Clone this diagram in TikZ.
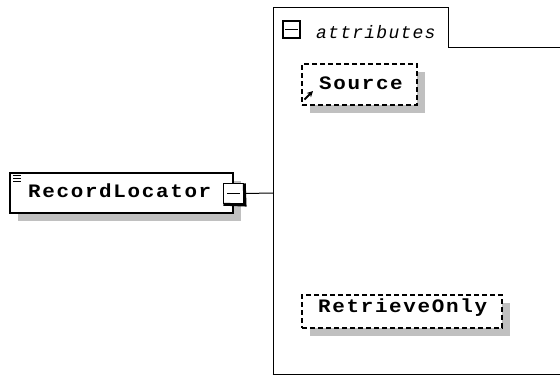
\documentclass[tikz,border=0pt]{standalone}
\usepackage{fontspec}
\usepackage{graphicx}
\usetikzlibrary{shadows,arrows.meta}
\newfontfamily\namefont[LetterSpace=8]{Liberation Mono}
\newfontfamily\grpfont[LetterSpace=7]{Liberation Mono}
\definecolor{shadowgray}{RGB}{192,192,192}
\begin{document}
\begin{tikzpicture}[x=1pt,y=-1pt,
  elembox/.style={draw=black,line width=1.2pt,fill=white,inner sep=0pt,
    drop shadow={shadow xshift=8pt,shadow yshift=-8pt,fill=shadowgray,opacity=1}},
  attrbox/.style={draw=black,line width=1.5pt,dash pattern=on 5pt off 3pt,fill=white,inner sep=0pt,
    drop shadow={shadow xshift=8pt,shadow yshift=-8pt,fill=shadowgray,opacity=1}},
  nametext/.style={anchor=base west,inner sep=0pt,font=\namefont\fontsize{19pt}{21pt}\selectfont\bfseries},
  grptext/.style={anchor=base west,inner sep=0pt,font=\grpfont\fontsize{18pt}{20pt}\selectfont\itshape},
  minusbox/.style={draw=black,line width=1.5pt,fill=white,inner sep=0pt,minimum size=20pt},
  conn/.style={draw=black,line width=1pt}]
\useasboundingbox (0,0) rectangle (560,376);
% container
\draw[conn] (273,374.5) -- (273,7.5) -- (448,7.5) -- (448,47) -- (565,47);
\draw[conn] (272.5,374.5) -- (565,374.5);
\coordinate (cl) at (273,193);
% tab minus box
\node[draw=black,line width=2pt,fill=white,inner sep=0pt,minimum size=17pt] (tm) at (291.5,29.5) {};
\draw[line width=1.5pt] ([xshift=3pt]tm.west) -- ([xshift=-3pt]tm.east);
\node[grptext] (attr) at (316,38) {attributes};
% element
\node[elembox,minimum width=223pt,minimum height=40pt] (rl) at (121.5,193) {};
\draw[line width=1pt] (13,175) -- (21,175) (13,178) -- (21,178) (13,181) -- (21,181);
\node[nametext] (rlt) at (28,197.5) {\scalebox{1.1}[1]{RecordLocator}};
\node[minusbox] (mb) at (233.5,193.5) {};
\draw[line width=3pt] ([yshift=-0.75pt]mb.north east) -- ([xshift=0.75pt,yshift=-0.75pt]mb.south east) -- ([xshift=0.75pt]mb.south west);
\draw[line width=1.5pt] ([xshift=4.5pt]mb.west) -- ([xshift=-4.5pt]mb.east);
\draw[conn] (mb.east) -- (cl);
% attributes
\node[attrbox,minimum width=115pt,minimum height=41pt] (src) at (359.5,84.5) {};
\node[nametext] (srct) at (319,89.5) {\scalebox{1.1}[1]{Source}};
\draw[line width=1.8pt,-{Stealth[length=6pt,width=6pt]}] (304.5,99.5) -- (313,91);
\node[attrbox,minimum width=200pt,minimum height=33pt] (ro) at (402,311.5) {};
\node[nametext] (rot) at (318,312.5) {\scalebox{1.1}[1]{RetrieveOnly}};
\end{tikzpicture}
\end{document}
